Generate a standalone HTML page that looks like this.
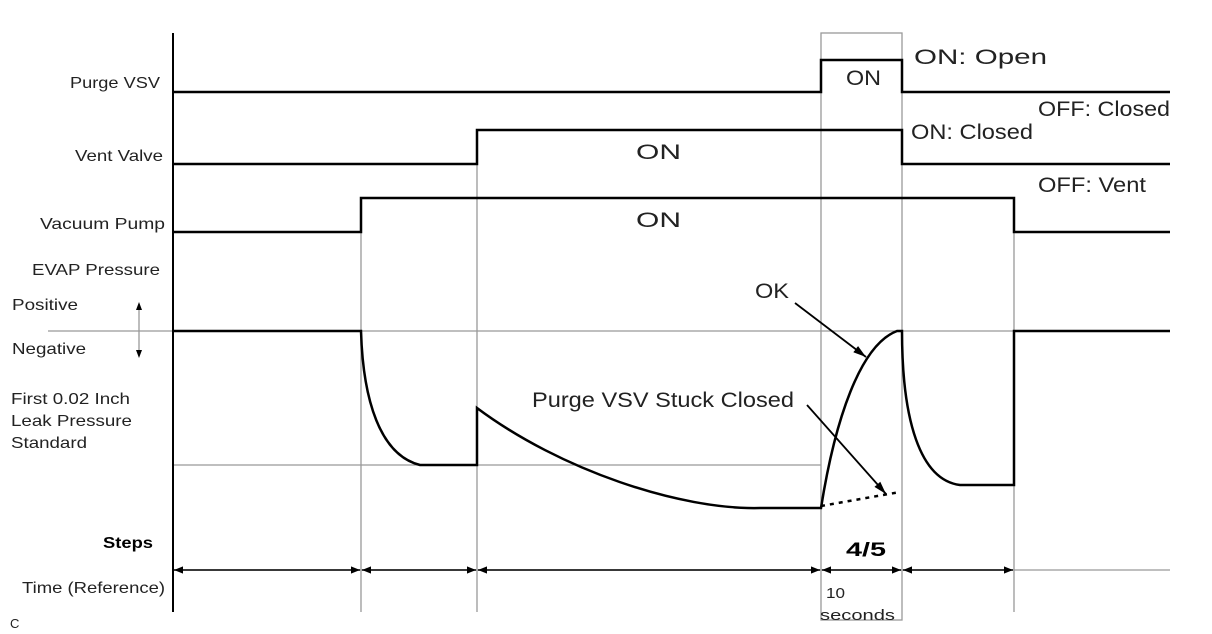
<!DOCTYPE html>
<html><head><meta charset="utf-8"><style>
html,body{margin:0;padding:0;background:#fff;}
svg{display:block;font-family:"Liberation Sans",Arial,sans-serif;}
</style></head><body>
<svg width="1212" height="634" viewBox="0 0 1212 634" xmlns="http://www.w3.org/2000/svg">
<defs>
<marker id="ah" viewBox="0 0 10 10" refX="10" refY="5" markerWidth="9" markerHeight="9" orient="auto-start-reverse" markerUnits="userSpaceOnUse"><path d="M0,1 L10,5 L0,9 z" fill="#000"/></marker>
<marker id="ah2" viewBox="0 0 10 10" refX="10" refY="5" markerWidth="13" markerHeight="13" orient="auto" markerUnits="userSpaceOnUse"><path d="M0,2 L10,5 L0,8 z" fill="#000"/></marker>
</defs>
<g stroke="#999" stroke-width="1.3" fill="none">
<rect x="821" y="33" width="81" height="587"/>
<line x1="361" y1="198" x2="361" y2="612"/>
<line x1="477" y1="130" x2="477" y2="612"/>
<line x1="1014" y1="198" x2="1014" y2="612"/>
<line x1="48" y1="331" x2="1170" y2="331"/>
<line x1="173" y1="465" x2="821" y2="465"/>
<line x1="173" y1="570" x2="1170" y2="570"/>
<line x1="139" y1="308" x2="139" y2="352"/>
</g>
<path d="M139,302 l-3,8 h6z M139,358 l-3,-8 h6z" fill="#000"/>
<line x1="173" y1="33" x2="173" y2="612" stroke="#000" stroke-width="2"/>
<g stroke="#000" stroke-width="2.5" fill="none">
<polyline points="173,92 821,92 821,60 902,60 902,92 1170,92"/>
<polyline points="173,164 477,164 477,130 902,130 902,164 1170,164"/>
<polyline points="173,232 361,232 361,198 1014,198 1014,232 1170,232"/>
<path d="M173,331 H361 C363,400 380,455 420,465 H477 V408 C560,470 680,510 760,508 H821 C835,420 860,345 897,331 H902 C902,420 920,480 960,485 H1014 V331 H1170"/>
</g>
<line x1="821" y1="506" x2="900" y2="492" stroke="#000" stroke-width="2.5" stroke-dasharray="4,5"/>
<line x1="795" y1="303" x2="866" y2="357" stroke="#000" stroke-width="1.8" marker-end="url(#ah2)"/>
<line x1="807" y1="405" x2="886" y2="494" stroke="#000" stroke-width="1.8" marker-end="url(#ah2)"/>
<g stroke="#000" stroke-width="1.5">
<line x1="174" y1="570" x2="360" y2="570" marker-start="url(#ah)" marker-end="url(#ah)"/>
<line x1="362" y1="570" x2="476" y2="570" marker-start="url(#ah)" marker-end="url(#ah)"/>
<line x1="478" y1="570" x2="820" y2="570" marker-start="url(#ah)" marker-end="url(#ah)"/>
<line x1="822" y1="570" x2="901" y2="570" marker-start="url(#ah)" marker-end="url(#ah)"/>
<line x1="903" y1="570" x2="1013" y2="570" marker-start="url(#ah)" marker-end="url(#ah)"/>
</g>
<g font-size="16" fill="#222" lengthAdjust="spacingAndGlyphs">
<text x="70" y="88" textLength="90" lengthAdjust="spacingAndGlyphs">Purge VSV</text>
<text x="75" y="161" textLength="88" lengthAdjust="spacingAndGlyphs">Vent Valve</text>
<text x="40" y="229" textLength="125" lengthAdjust="spacingAndGlyphs">Vacuum Pump</text>
<text x="32" y="275" textLength="128" lengthAdjust="spacingAndGlyphs">EVAP Pressure</text>
<text x="22" y="593" textLength="143" lengthAdjust="spacingAndGlyphs">Time (Reference)</text>
<text x="12" y="310" textLength="66" lengthAdjust="spacingAndGlyphs">Positive</text>
<text x="12" y="354" textLength="74" lengthAdjust="spacingAndGlyphs">Negative</text>
<text x="11" y="404" textLength="119" lengthAdjust="spacingAndGlyphs">First 0.02 Inch</text>
<text x="11" y="426" textLength="121" lengthAdjust="spacingAndGlyphs">Leak Pressure</text>
<text x="11" y="448" textLength="76" lengthAdjust="spacingAndGlyphs">Standard</text>
<text x="10" y="628" font-size="13">C</text>
<text x="826" y="598" font-size="15" textLength="19" lengthAdjust="spacingAndGlyphs">10</text>
<text x="820" y="620" font-size="15" textLength="75" lengthAdjust="spacingAndGlyphs">seconds</text>
</g>
<text x="103" y="548" font-size="16" font-weight="bold" textLength="50" lengthAdjust="spacingAndGlyphs">Steps</text>
<text x="846" y="556" font-size="19" font-weight="bold" textLength="40" lengthAdjust="spacingAndGlyphs">4/5</text>
<g font-size="21" fill="#222">
<text x="846" y="85" textLength="35" lengthAdjust="spacingAndGlyphs">ON</text>
<text x="636" y="159" textLength="45" lengthAdjust="spacingAndGlyphs">ON</text>
<text x="636" y="227" textLength="45" lengthAdjust="spacingAndGlyphs">ON</text>
<text x="914" y="64" textLength="133" lengthAdjust="spacingAndGlyphs">ON: Open</text>
<text x="1038" y="116" textLength="132" lengthAdjust="spacingAndGlyphs">OFF: Closed</text>
<text x="911" y="139" textLength="122" lengthAdjust="spacingAndGlyphs">ON: Closed</text>
<text x="1038" y="192" textLength="108" lengthAdjust="spacingAndGlyphs">OFF: Vent</text>
<text x="755" y="298" textLength="34" lengthAdjust="spacingAndGlyphs">OK</text>
<text x="532" y="407" textLength="262" lengthAdjust="spacingAndGlyphs">Purge VSV Stuck Closed</text>
</g>
</svg>
</body></html>
